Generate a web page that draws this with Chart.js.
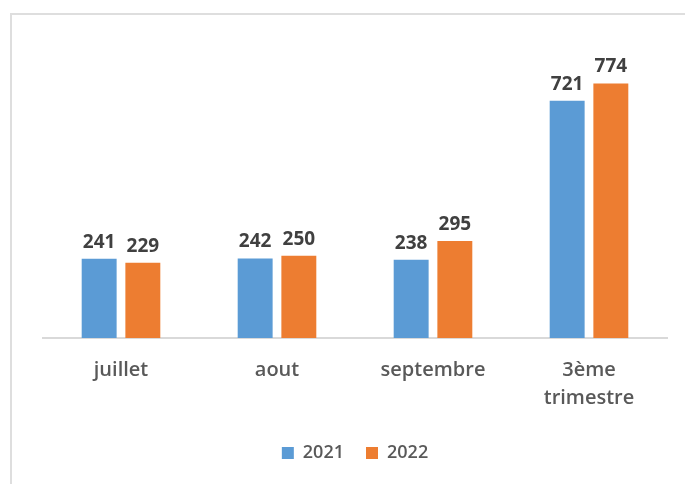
<!DOCTYPE html>
<html>
<head>
<meta charset="utf-8">
<script src="https://cdn.jsdelivr.net/npm/chart.js@4/dist/chart.umd.min.js"></script>
<style>
  html, body { margin: 0; padding: 0; background: #fff; overflow: hidden; }
  #wrap { position: relative; width: 685px; height: 484px; }
  #frame { position: absolute; left: 10px; top: 13px; width: 700px; height: 500px;
           border: 2px solid #dedede; box-sizing: border-box; }
  canvas { position: absolute; left: 0; top: 0; }
</style>
</head>
<body>
<div id="wrap">
  <div id="frame"></div>
  <canvas id="chart" width="685" height="484"></canvas>
</div>
<script>
const categories = ['juillet', 'aout', 'septembre', ['3ème', 'trimestre']];
const values2021 = [241, 242, 238, 721];
const values2022 = [229, 250, 295, 774];
const seriesNames = ['2021', '2022'];

// value labels above each bar
const barLabels = {
  id: 'barLabels',
  afterDatasetsDraw(chart) {
    const ctx = chart.ctx;
    ctx.save();
    ctx.font = 'bold 19px "Open Sans"';
    ctx.fillStyle = '#404040';
    ctx.textAlign = 'center';
    ctx.textBaseline = 'alphabetic';
    chart.data.datasets.forEach((ds, i) => {
      chart.getDatasetMeta(i).data.forEach((bar, j) => {
        ctx.fillText(ds.data[j], bar.x, bar.y - 11);
      });
    });
    ctx.restore();
  }
};

new Chart(document.getElementById('chart'), {
  type: 'bar',
  data: {
    labels: categories,
    datasets: [
      { label: seriesNames[0], data: values2021, backgroundColor: '#5b9bd5' },
      { label: seriesNames[1], data: values2022, backgroundColor: '#ed7d31' }
    ]
  },
  options: {
    responsive: false,
    animation: false,
    categoryPercentage: 0.56,
    barPercentage: 0.8,
    layout: { padding: { left: 43, right: 18, top: 42, bottom: 12 } },
    scales: {
      x: {
        grid: { display: false },
        border: { color: '#d9d9d9', width: 2 },
        ticks: {
          color: '#595959', padding: 10,
          font: { family: '"Open Sans"', size: 20, weight: '600', lineHeight: 1.4 }
        }
      },
      y: { display: false, min: 0, max: 900 }
    },
    plugins: {
      legend: {
        position: 'bottom',
        labels: {
          boxWidth: 12, boxHeight: 12, padding: 22,
          color: '#595959',
          font: { family: '"Open Sans"', size: 18, weight: '600' }
        }
      },
      tooltip: { enabled: false }
    }
  },
  plugins: [barLabels]
});
</script>
</body>
</html>
